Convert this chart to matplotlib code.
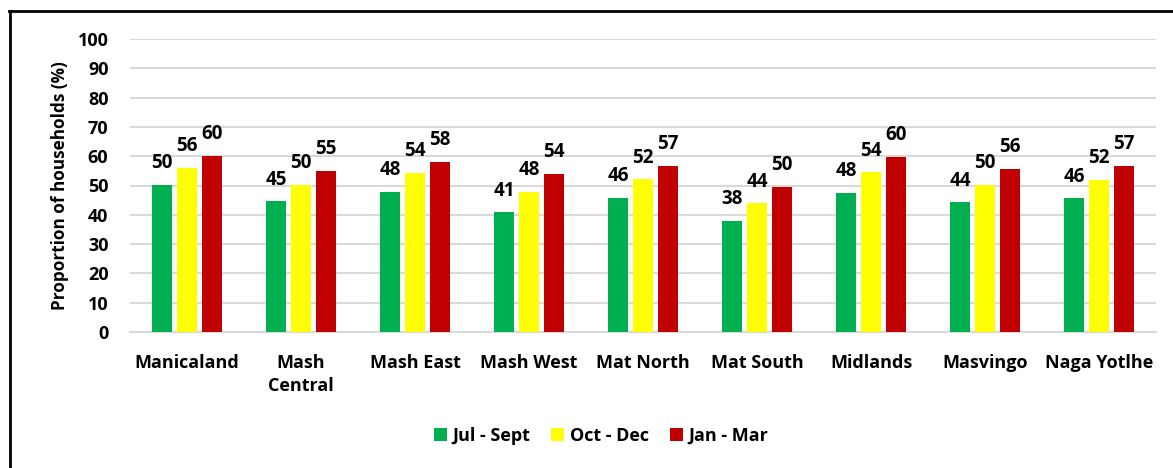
import matplotlib
matplotlib.use("Agg")
import matplotlib.pyplot as plt
from matplotlib.lines import Line2D
from matplotlib.patches import Patch
import numpy as np

plt.rcParams['font.family'] = ['Open Sans', 'DejaVu Sans']
plt.rcParams['font.weight'] = 'bold'

categories = ["Manicaland", "Mash\nCentral", "Mash East", "Mash West", "Mat North",
              "Mat South", "Midlands", "Masvingo", "Naga Yotlhe"]
series_names = ["Jul - Sept", "Oct - Dec", "Jan - Mar"]
jul_sept = [50.2, 44.6, 47.7, 40.8, 45.8, 37.8, 47.6, 44.2, 45.6]
oct_dec = [56.1, 50.2, 54.2, 47.9, 52.1, 43.9, 54.5, 50.2, 51.8]
jan_mar = [60.2, 55.1, 58.1, 53.9, 56.7, 49.6, 59.7, 55.6, 56.7]
colors = ["#00B050", "#FFFF00", "#C00000"]
yticks = [0, 10, 20, 30, 40, 50, 60, 70, 80, 90, 100]

W, H = 1173, 468
fig = plt.figure(figsize=(W / 100, H / 100), dpi=100)
ax = fig.add_axes([130 / W, 1 - 332 / H, (1156 - 130) / W, (332 - 39) / H])

x = np.arange(len(categories))
width = 0.175
step = 0.22
for i, (vals, c, name) in enumerate(zip([jul_sept, oct_dec, jan_mar], colors, series_names)):
    bars = ax.bar(x + (i - 1) * step, vals, width, color=c, label=name, zorder=3)
    for b, v in zip(bars, vals):
        ax.annotate(f"{round(v):d}", (b.get_x() + b.get_width() / 2, v),
                    xytext=(0, 8.5), textcoords="offset points",
                    ha="center", va="bottom", fontsize=13.5, fontweight="bold")

ax.set_xlim(-0.5, len(categories) - 0.5)
ax.set_ylim(0, 100)
ax.set_yticks(yticks)
ax.set_xticks(x)
ax.set_xticklabels(categories, fontsize=13, fontweight="bold", linespacing=1.37)
ax.tick_params(axis="both", length=0)
ax.tick_params(axis="x", pad=16, labelsize=13)
ax.tick_params(axis="y", pad=15.5, labelsize=13)
for lab in ax.get_yticklabels():
    lab.set_fontweight("bold")
ax.yaxis.grid(True, color="#d9d9d9", linewidth=1.5, zorder=0)
ax.set_axisbelow(True)
for s in ["top", "right", "left"]:
    ax.spines[s].set_visible(False)
ax.spines["bottom"].set_color("#d9d9d9")
ax.spines["bottom"].set_linewidth(1.5)
ax.set_ylabel("Proportion of households (%)", fontsize=12.3, fontweight="bold", labelpad=6)

handles = [Patch(facecolor=c, label=n) for c, n in zip(colors, series_names)]
fig.legend(handles=handles, loc="center", bbox_to_anchor=(601 / W, 1 - 436 / H),
           ncol=3, frameon=False, handlelength=0.7, handleheight=0.7,
           handletextpad=0.3, columnspacing=1.2, prop={"weight": "bold", "size": 13})

fig.add_artist(Line2D([9 / W, 1172 / W], [1 - 11 / H, 1 - 11 / H], color="black", linewidth=2))
fig.add_artist(Line2D([10 / W, 10 / W], [1 - 11 / H, 0], color="black", linewidth=2))

fig.savefig("out.png", dpi=100, facecolor="white")
